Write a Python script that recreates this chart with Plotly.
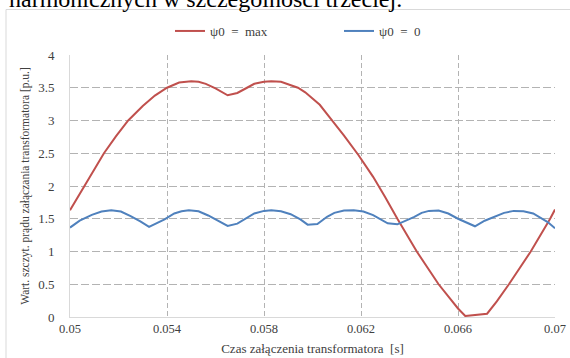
import plotly.graph_objects as go

# Inrush current peak vs. switching instant, two residual-flux cases
t_max = [0.0500, 0.0503, 0.0506, 0.0510, 0.0514, 0.0519, 0.0524, 0.0530, 0.0535, 0.0540,
         0.0545, 0.0550, 0.0553, 0.0556, 0.0560, 0.0565, 0.0569, 0.0573, 0.0576, 0.0580,
         0.0583, 0.0587, 0.0590, 0.0594, 0.0597, 0.0603, 0.0607, 0.0613, 0.0619, 0.0625,
         0.0630, 0.0635, 0.0643, 0.0652, 0.0660, 0.0663, 0.0672, 0.0676, 0.0681, 0.0690,
         0.0698, 0.0700]
i_max = [1.63, 1.82, 2.00, 2.25, 2.50, 2.76, 3.00, 3.22, 3.38, 3.50,
         3.58, 3.60, 3.59, 3.56, 3.49, 3.385, 3.42, 3.50, 3.56, 3.59,
         3.60, 3.59, 3.55, 3.50, 3.43, 3.24, 3.05, 2.77, 2.47, 2.14,
         1.83, 1.50, 1.00, 0.50, 0.13, 0.015, 0.05, 0.24, 0.50, 1.00,
         1.50, 1.64]

t_zero = [0.0500, 0.0504, 0.0509, 0.0513, 0.0517, 0.0521, 0.0525, 0.0529, 0.05326, 0.0539,
          0.0543, 0.0546, 0.0549, 0.0553, 0.0557, 0.0561, 0.0565, 0.0569, 0.0573, 0.0576,
          0.0580, 0.0583, 0.0587, 0.0591, 0.0595, 0.0598, 0.0602, 0.0606, 0.0609, 0.0613,
          0.0617, 0.0621, 0.0625, 0.0628, 0.0631, 0.0635, 0.0639, 0.0642, 0.0645, 0.0648,
          0.0652, 0.0656, 0.0660, 0.0664, 0.0667, 0.0671, 0.0675, 0.0679, 0.0683, 0.0687,
          0.0691, 0.0694, 0.0697, 0.0700]
i_zero = [1.365, 1.47, 1.56, 1.61, 1.63, 1.61, 1.54, 1.46, 1.375, 1.49,
          1.58, 1.615, 1.63, 1.615, 1.55, 1.47, 1.39, 1.425, 1.52, 1.58,
          1.62, 1.63, 1.615, 1.57, 1.49, 1.41, 1.42, 1.53, 1.59, 1.625,
          1.63, 1.61, 1.555, 1.49, 1.43, 1.415, 1.48, 1.53, 1.59, 1.62,
          1.625, 1.58, 1.50, 1.44, 1.385, 1.47, 1.53, 1.59, 1.62, 1.615,
          1.58, 1.52, 1.45, 1.355]

x_ticks = [0.05, 0.054, 0.058, 0.062, 0.066, 0.07]
x_labels = ["0.05", "0.054", "0.058", "0.062", "0.066", "0.07"]
y_ticks = [0, 0.5, 1, 1.5, 2, 2.5, 3, 3.5, 4]
y_labels = ["0", "0.5", "1", "1.5", "2", "2.5", "3", "3.5", "4"]

serif = "Liberation Serif"
NB = "\u00a0"
W, H = 570, 358
L, R, T, B = 70, 15, 55, 41
pw, ph = W - L - R, H - T - B


def px_x(p):
    return (p - L) / pw


def px_y(p):
    return (H - B - p) / ph


fig = go.Figure()
fig.add_trace(go.Scatter(x=t_max, y=i_max, mode="lines",
                         name=f"ψ0{NB}{NB}={NB}{NB}max",
                         line=dict(color="#c0504d", width=2)))
fig.add_trace(go.Scatter(x=t_zero, y=i_zero, mode="lines",
                         name=f"ψ0{NB}{NB}={NB}{NB}0",
                         line=dict(color="#4f81bd", width=2)))

fig.update_layout(
    width=W, height=H,
    margin=dict(l=L, r=R, t=T, b=B, autoexpand=False),
    paper_bgcolor="white", plot_bgcolor="white",
    font=dict(family=serif, color="#404040", size=13),
    showlegend=True,
    legend=dict(orientation="h", x=px_x(170), xanchor="left",
                y=px_y(31), yanchor="middle", itemwidth=30,
                entrywidth=124, entrywidthmode="pixels",
                font=dict(family=serif, size=13, color="#404040"),
                bgcolor="rgba(0,0,0,0)", borderwidth=0),
    xaxis=dict(range=[0.05, 0.07], tickvals=x_ticks, ticktext=x_labels,
               automargin=False,
               showgrid=True, gridcolor="#b3b3b3", griddash="5px,3px", gridwidth=1,
               showline=True, linecolor="#d9d9d9", linewidth=1,
               zeroline=False, ticks="", ticklabelstandoff=0,
               tickfont=dict(family=serif, size=12.5, color="#404040"),
               title=dict(text="Czas załączenia transformatora  [s]",
                          font=dict(family=serif, size=13, color="#404040"),
                          standoff=8)),
    yaxis=dict(range=[0, 4], tickvals=y_ticks, ticktext=y_labels,
               automargin=False,
               showgrid=True, gridcolor="#b3b3b3", griddash="8px,3px", gridwidth=1,
               showline=True, linecolor="#d9d9d9", linewidth=1,
               zeroline=False, ticks="", ticklabelstandoff=12,
               tickfont=dict(family=serif, size=13, color="#404040"),
               title=dict(text="Wart. szczyt. prądu załączania transformatora [p.u.]",
                          font=dict(family=serif, size=11.5, color="#404040"),
                          standoff=6)),
)

# Chart frame edges
frame = "#d9d9d9"
fig.add_shape(type="line", xref="paper", yref="paper",
              x0=px_x(6), x1=px_x(580), y0=px_y(9.5), y1=px_y(9.5),
              line=dict(color=frame, width=1), layer="below")
fig.add_shape(type="line", xref="paper", yref="paper",
              x0=px_x(6), x1=px_x(6), y0=px_y(9.5), y1=px_y(370),
              line=dict(color=frame, width=1), layer="below")

# Preceding line of body text above the chart
fig.add_annotation(text="harmonicznych w szczególności trzeciej.",
                   xref="paper", yref="paper", x=px_x(8), y=px_y(13),
                   xanchor="left", yanchor="bottom", showarrow=False,
                   borderpad=0, font=dict(family=serif, size=24, color="black"))

fig.write_html("out.html")
